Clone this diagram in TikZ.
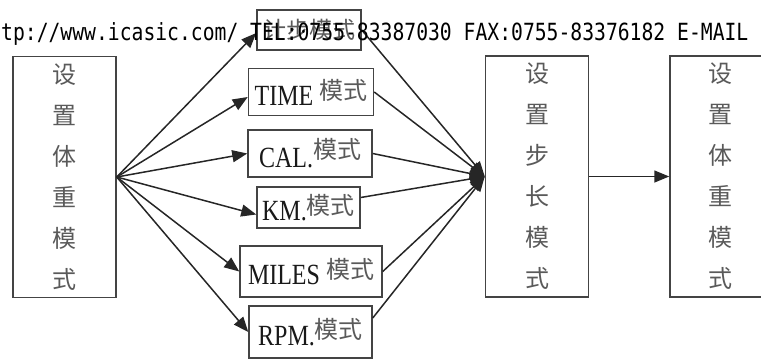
\documentclass[tikz,border=0pt]{standalone}
\usepackage{fontspec}
\setmainfont{Liberation Serif}
\newfontfamily\cjk{Noto Sans CJK SC}
\newfontfamily\wmfont{DejaVu Sans Mono}
\usetikzlibrary{arrows.meta}
\definecolor{boxline}{HTML}{444444}
\definecolor{cjkgray}{HTML}{5A5A5A}
\newcommand{\momo}[1][6pt]{\raisebox{#1}{\cjk\color{cjkgray}\fontsize{24}{26}\selectfont 模式}}
\newcommand{\tallat}[1]{\scalebox{1}[1.22]{#1}}
\begin{document}
\begin{tikzpicture}[x=1pt,y=-1pt,
  box/.style={draw=boxline,line width=1.5pt,inner sep=0pt,fill=white},
  tall/.style={box,minimum width=103pt,minimum height=241pt,align=center,
    font=\cjk\fontsize{24}{41}\selectfont,text=cjkgray},
  mode/.style={box,font=\fontsize{24}{26}\selectfont,text=black!90},
  arr/.style={line width=1.5pt,draw=black!85,-{Triangle[length=15pt,width=12pt]}}]
\useasboundingbox (0,0) rectangle (761,360);
% tall boxes
\node[tall] (lb) at (64.5,177) {设\\置\\体\\重\\模\\式};
\node[tall] (mid) at (537,176.5) {设\\置\\步\\长\\模\\式};
\node[tall,minimum width=100pt] (rb) at (720,176.5) {设\\置\\体\\重\\模\\式};
% mode boxes
\node[mode,minimum width=104pt,minimum height=40pt] (jb) at (309,30)
  {\cjk\color{cjkgray}\fontsize{23}{24}\selectfont 计步模式};
\node[mode,minimum width=125pt,minimum height=47pt] (time) at (311,92)
  {\tallat{TIME} \momo\hspace{6pt}};
\node[mode,minimum width=124pt,minimum height=47pt] (cal) at (310,153.5)
  {\tallat{CAL.}\momo[9pt]\hspace{16pt}};
\node[mode,minimum width=103pt,minimum height=41pt] (km) at (308.5,207.5)
  {\tallat{KM.}\momo\hspace{5pt}};
\node[mode,minimum width=142pt,minimum height=51pt] (miles) at (311,271.5)
  {\tallat{MILES} \momo\hspace{12pt}};
\node[mode,minimum width=123pt,minimum height=52pt] (rpm) at (310.5,332)
  {\tallat{RPM.}\momo[7pt]\hspace{10pt}};
% arrows out of the left box
\draw[arr] (lb.east) -- ([yshift=-3pt]jb.west);
\draw[arr] (lb.east) -- ([yshift=-5pt]time.west);
\draw[arr] (lb.east) -- (cal.west);
\draw[arr] (lb.east) -- ([yshift=-7pt]km.west);
\draw[arr] (lb.east) -- (miles.west);
\draw[arr] (lb.east) -- (rpm.west);
% arrows into the middle box
\draw[arr] (jb.east) -- (mid.west);
\draw[arr] (time.east) -- (mid.west);
\draw[arr] (cal.east) -- (mid.west);
\draw[arr] ([yshift=10pt]km.east) -- (mid.west);
\draw[arr] (miles.east) -- (mid.west);
\draw[arr] ([yshift=14pt]rpm.east) -- (mid.west);
% middle to right
\draw[arr] (mid.east) -- (rb.west);
% watermark line
\node[anchor=base west,inner sep=0pt,font=\wmfont\fontsize{19.7}{20}\selectfont] (wm) at (1,40)
  {\scalebox{1}[1.2]{tp://www.icasic.com/ TEL:0755-83387030 FAX:0755-83376182 E-MAIL}};
\end{tikzpicture}
\end{document}
